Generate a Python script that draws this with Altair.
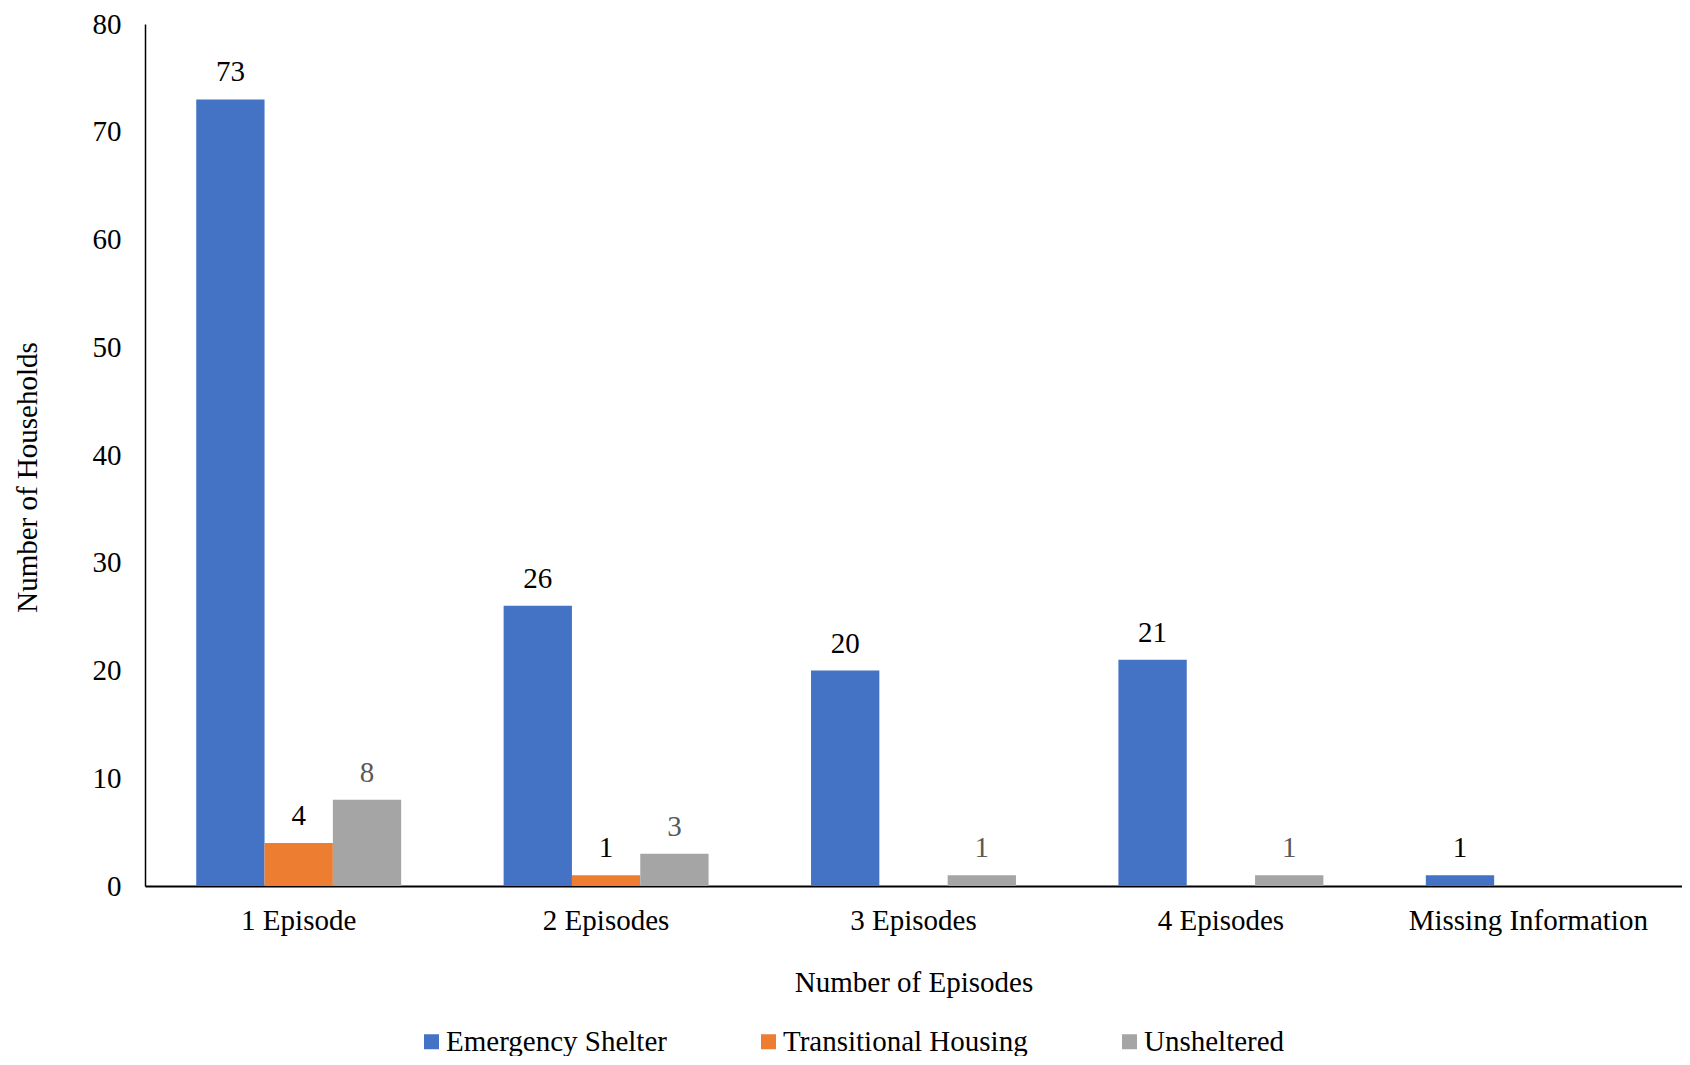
import altair as alt
import pandas as pd

categories = ["1 Episode", "2 Episodes", "3 Episodes", "4 Episodes", "Missing Information"]
series = ["Emergency Shelter", "Transitional Housing", "Unsheltered"]
emergency = [73, 26, 20, 21, 1]
transitional = [4, 1, 0, 0, 0]
unsheltered = [8, 3, 1, 1, 0]
y_ticks = [0, 10, 20, 30, 40, 50, 60, 70, 80]
colors = ["#4472C4", "#ED7D31", "#A5A5A5"]

rows = []
for s, vals in zip(series, [emergency, transitional, unsheltered]):
    for c, v in zip(categories, vals):
        rows.append({"Episodes": c, "Type": s, "Value": v})
df = pd.DataFrame(rows)

FONT = "Liberation Serif"
FS = 29

x_enc = alt.X("Episodes:N", sort=categories,
              scale=alt.Scale(paddingInner=1/3, paddingOuter=1/6),
              axis=alt.Axis(title="Number of Episodes", labelAngle=0, ticks=False,
                            domainColor="black", domainWidth=2, labelPadding=20,
                            titlePadding=33, labelFontSize=FS, titleFontSize=FS,
                            labelColor="black", titleColor="black", labelLimit=0,
                            labelFont=FONT, titleFont=FONT, titleFontWeight="normal"))
xoff = alt.XOffset("Type:N", sort=series)

bars = alt.Chart(df).mark_bar().encode(
    x=x_enc,
    xOffset=xoff,
    y=alt.Y("Value:Q", scale=alt.Scale(domain=[0, 80], nice=False),
            axis=alt.Axis(title="Number of Households", values=y_ticks, grid=False,
                          ticks=False, domainColor="black", domainWidth=1.5,
                          labelPadding=24, labelFontSize=FS, titleFontSize=FS,
                          labelColor="black", titleColor="black",
                          labelFont=FONT, titleFont=FONT, titleFontWeight="normal",
                          titleX=-118, titleY=453, titleBaseline="middle",
                          titleAlign="center", titleAngle=-90)),
    color=alt.Color("Type:N", sort=series,
                    scale=alt.Scale(domain=series, range=colors),
                    legend=alt.Legend(title=None, orient="none", direction="horizontal",
                                      legendX=272, legendY=1003,
                                      symbolType="square", symbolSize=225,
                                      symbolStrokeWidth=0, labelLimit=0,
                                      labelFont=FONT, labelFontSize=FS,
                                      labelColor="black", columnPadding=87,
                                      labelOffset=0)),
)

labels = alt.Chart(df).transform_filter(alt.datum.Value > 0).mark_text(
    font=FONT, fontSize=FS, baseline="alphabetic", dy=-18
).encode(
    x=alt.X("Episodes:N", sort=categories),
    xOffset=xoff,
    y=alt.Y("Value:Q"),
    text=alt.Text("Value:Q"),
    color=alt.condition(alt.datum.Type == "Unsheltered", alt.value("#595959"), alt.value("black")),
)

chart = alt.layer(bars, labels).properties(
    width=1537, height=862,
    padding={"left": 137, "top": 16, "right": 0, "bottom": 170},
    autosize=alt.AutoSizeParams(type="none"),
    background="white",
).configure_view(stroke=None)

chart.save("out.html", embed_options={"renderer": "svg", "actions": False})
